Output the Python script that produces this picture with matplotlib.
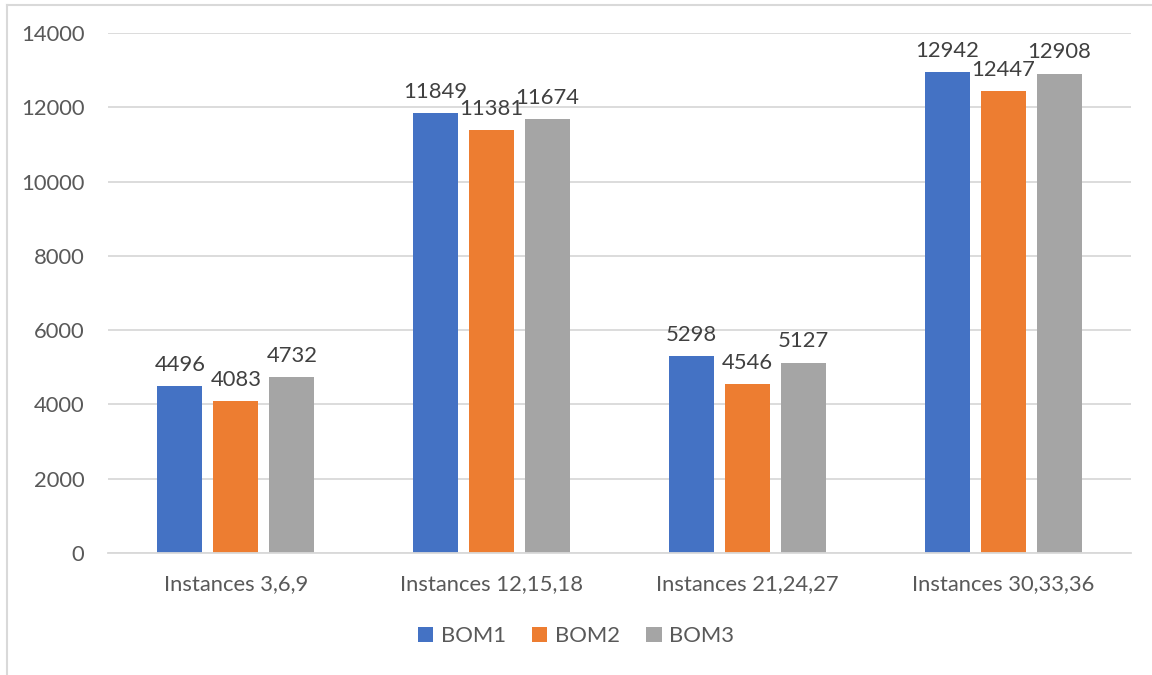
import matplotlib.pyplot as plt
import numpy as np

categories = ["Instances 3,6,9", "Instances 12,15,18", "Instances 21,24,27", "Instances 30,33,36"]
series_names = ["BOM1", "BOM2", "BOM3"]
bom1 = [4496, 11849, 5298, 12942]
bom2 = [4083, 11381, 4546, 12447]
bom3 = [4732, 11674, 5127, 12908]
yticks = [0, 2000, 4000, 6000, 8000, 10000, 12000, 14000]

colors = ["#4472C4", "#ED7D31", "#A5A5A5"]
text_color = "#595959"

plt.rcParams["font.family"] = ["Lato", "DejaVu Sans"]

fig = plt.figure(figsize=(11.52, 6.75), dpi=100)
ax = fig.add_axes([0.0938, 0.1807, 0.888, 0.7704])

x = np.arange(len(categories))
width = 0.176
step = 0.219
for i, (vals, name) in enumerate(zip([bom1, bom2, bom3], series_names)):
    bars = ax.bar(x + (i - 1) * step, vals, width, color=colors[i], label=name, zorder=3)
    ax.bar_label(bars, labels=[str(v) for v in vals], padding=8,
                 fontsize=15.8, color="#404040")

ax.set_xlim(-0.5, len(categories) - 0.5)
ax.set_ylim(0, 14000)
ax.set_yticks(yticks)
ax.set_yticklabels([str(t) for t in yticks])
ax.set_xticks(x)
ax.set_xticklabels(categories)
ax.tick_params(axis="both", length=0, labelsize=15.8, labelcolor=text_color)
ax.tick_params(axis="y", pad=17)
ax.tick_params(axis="x", pad=15)

ax.grid(axis="y", color="#D9D9D9", linewidth=1.3, zorder=0)
for side in ["top", "right", "left"]:
    ax.spines[side].set_visible(False)
ax.spines["bottom"].set_color("#D9D9D9")
ax.spines["bottom"].set_linewidth(1.3)
ax.spines["bottom"].set_zorder(4)

leg = fig.legend(loc="center", bbox_to_anchor=(0.5, 1 - 636 / 675), ncol=3,
                 frameon=False, fontsize=15.8, handlelength=0.7, handleheight=0.7,
                 handletextpad=0.35, columnspacing=1.2)
for t in leg.get_texts():
    t.set_color(text_color)

# chart frame edges on the left and top
fig.add_artist(plt.Line2D([7 / 1152, 7 / 1152], [0, 1 - 5 / 675],
                          transform=fig.transFigure, color="#D9D9D9", linewidth=1.5))
fig.add_artist(plt.Line2D([7 / 1152, 1], [1 - 5 / 675, 1 - 5 / 675],
                          transform=fig.transFigure, color="#D9D9D9", linewidth=1.5))

fig.savefig("out.png", dpi=100)
